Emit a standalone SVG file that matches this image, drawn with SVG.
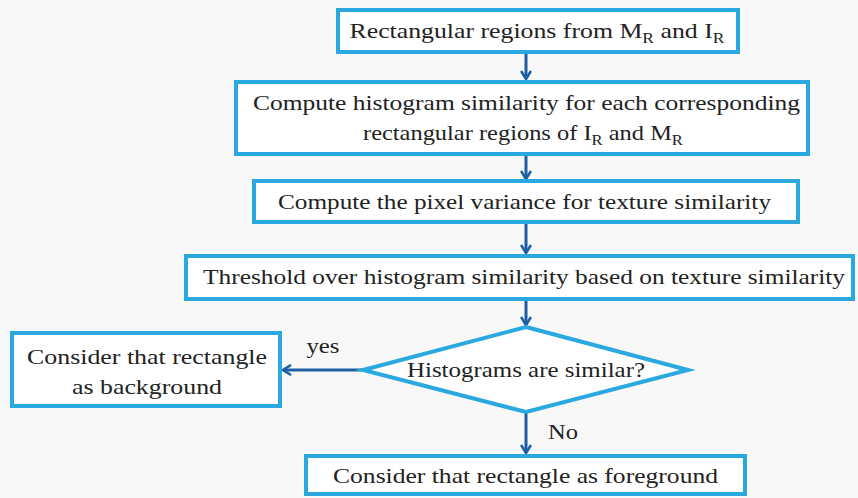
<svg xmlns="http://www.w3.org/2000/svg" width="858" height="498" viewBox="0 0 858 498">
<defs>
<style>
.box{fill:#ffffff;stroke:#2aa8e0;stroke-width:4}
.t{font-family:"Liberation Serif","DejaVu Serif",serif;font-size:22px;fill:#222;text-anchor:middle}
.s{font-size:15px}
.c{stroke:#1d5fa3;stroke-width:3;fill:none}
</style>
<marker id="ah" viewBox="0 0 12 12" refX="10" refY="6" markerWidth="12" markerHeight="12" markerUnits="userSpaceOnUse" orient="auto">
<path d="M2,1 L10,6 L2,11" fill="none" stroke="#1d5fa3" stroke-width="2.6"/>
</marker>
</defs>
<rect width="858" height="498" fill="#f8f8f8"/>
<g id="connectors">
<line class="c" x1="526" y1="52" x2="526" y2="79" marker-end="url(#ah)"/>
<line class="c" x1="526" y1="154" x2="526" y2="179" marker-end="url(#ah)"/>
<line class="c" x1="526" y1="222" x2="526" y2="253" marker-end="url(#ah)"/>
<line class="c" x1="526" y1="299" x2="526" y2="325" marker-end="url(#ah)"/>
<line class="c" x1="363" y1="370" x2="283" y2="370" marker-end="url(#ah)"/>
<line class="c" x1="526" y1="412" x2="526" y2="453" marker-end="url(#ah)"/>
<text class="t" x="323" y="353" style="font-size:20px" textLength="33" lengthAdjust="spacingAndGlyphs">yes</text>
<text class="t" x="563" y="439" style="font-size:20px" textLength="30" lengthAdjust="spacingAndGlyphs">No</text>
</g>
<g id="n1">
<rect class="box" x="338" y="10" width="400" height="42"/>
<text class="t" x="537" y="38" textLength="375" lengthAdjust="spacingAndGlyphs">Rectangular regions from M<tspan class="s" dy="5">R</tspan><tspan dy="-5"> and I</tspan><tspan class="s" dy="5">R</tspan></text>
</g>
<g id="n2">
<rect class="box" x="236" y="82" width="572" height="72"/>
<text class="t" x="526.5" y="110" textLength="547" lengthAdjust="spacingAndGlyphs">Compute histogram similarity for each corresponding</text>
<text class="t" x="523" y="140" textLength="320" lengthAdjust="spacingAndGlyphs">rectangular regions of I<tspan class="s" dy="5">R</tspan><tspan dy="-5"> and M</tspan><tspan class="s" dy="5">R</tspan></text>
</g>
<g id="n3">
<rect class="box" x="254" y="181" width="544" height="41"/>
<text class="t" x="524.5" y="209" textLength="493" lengthAdjust="spacingAndGlyphs">Compute the pixel variance for texture similarity</text>
</g>
<g id="n4">
<rect class="box" x="186" y="256" width="667" height="43"/>
<text class="t" x="524" y="284" textLength="642" lengthAdjust="spacingAndGlyphs">Threshold over histogram similarity based on texture similarity</text>
</g>
<g id="n5">
<polygon class="box" points="526,327 688,370 526,412 363,370"/>
<text class="t" x="526" y="377" textLength="238" lengthAdjust="spacingAndGlyphs">Histograms are similar?</text>
</g>
<g id="n6">
<rect class="box" x="12" y="333" width="268" height="73"/>
<text class="t" x="147" y="364" textLength="240" lengthAdjust="spacingAndGlyphs">Consider that rectangle</text>
<text class="t" x="147" y="394" textLength="150" lengthAdjust="spacingAndGlyphs">as background</text>
</g>
<g id="n7">
<rect class="box" x="306" y="456" width="439" height="38"/>
<text class="t" x="525.5" y="483" textLength="385" lengthAdjust="spacingAndGlyphs">Consider that rectangle as foreground</text>
</g>
</svg>
